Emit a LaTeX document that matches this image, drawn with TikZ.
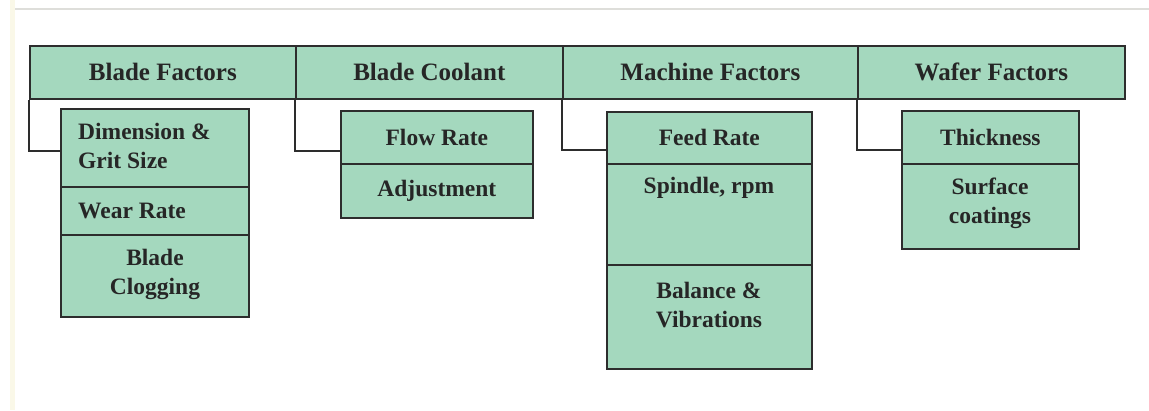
\documentclass[tikz,border=0pt]{standalone}
\usepackage{fontspec}
\setmainfont{Liberation Serif}
\definecolor{cellfill}{RGB}{164,216,190}
\definecolor{edge}{RGB}{45,45,45}
\definecolor{scanline}{RGB}{222,222,218}
\definecolor{cream}{RGB}{250,248,232}
\tikzset{
  cell/.style={draw=edge, fill=cellfill, line width=1.7pt, inner sep=0pt, anchor=north west},
  hdrtxt/.style={font=\bfseries\fontsize{25}{28}\selectfont, text=black!85, inner sep=0pt},
  celltxt/.style={font=\bfseries\fontsize{23.5}{29}\selectfont, text=black!85, inner sep=0pt, align=center},
  link/.style={draw=edge, line width=1.7pt}
}
\begin{document}
\begin{tikzpicture}[x=1pt,y=-1pt]
\useasboundingbox[fill=white] (0,0) rectangle (1149,410);
\fill[cream] (10,0) rectangle (15,410);
\draw[scanline, line width=1.2pt] (15,9) -- (1149,9);

% header row
\node[cell, minimum width=266pt, minimum height=53pt] (hbf) at (29,45) {};
\node[cell, minimum width=267pt, minimum height=53pt] (hbc) at (295,45) {};
\node[cell, minimum width=295pt, minimum height=53pt] (hmf) at (562,45) {};
\node[cell, minimum width=267pt, minimum height=53pt] (hwf) at (857,45) {};
\node[hdrtxt] (tbf) at (hbf.center) {Blade Factors};
\node[hdrtxt] (tbc) at (hbc.center) {Blade Coolant};
\node[hdrtxt] (tmf) at (hmf.center) {Machine Factors};
\node[hdrtxt] (twf) at (hwf.center) {Wafer Factors};

% Blade Factors column
\node[cell, minimum width=188pt, minimum height=78pt] (bf1) at (60,108) {};
\node[cell, minimum width=188pt, minimum height=48pt] (bf2) at (60,186) {};
\node[cell, minimum width=188pt, minimum height=82pt] (bf3) at (60,234) {};
\node[celltxt, align=left, anchor=west] (tbf1) at (78,146) {Dimension \&\\Grit Size};
\node[celltxt, anchor=west] (tbf2) at (78,211) {Wear Rate};
\node[celltxt] (tbf3) at (155,274) {Blade\\Clogging};

% Blade Coolant column
\node[cell, minimum width=192pt, minimum height=53pt] (bc1) at (340,110) {};
\node[cell, minimum width=192pt, minimum height=54pt] (bc2) at (340,163) {};
\node[celltxt] (tbc1) at (bc1.center) {Flow Rate};
\node[celltxt] (tbc2) at (bc2.center) {Adjustment};

% Machine Factors column
\node[cell, minimum width=205pt, minimum height=52pt] (mf1) at (606,111) {};
\node[cell, minimum width=205pt, minimum height=101pt] (mf2) at (606,163) {};
\node[cell, minimum width=205pt, minimum height=104pt] (mf3) at (606,264) {};
\node[celltxt] (tmf1) at (mf1.center) {Feed Rate};
\node[celltxt] (tmf2) at (709,188) {Spindle, rpm};
\node[celltxt] (tmf3) at (709,305) {Balance \&\\Vibrations};

% Wafer Factors column
\node[cell, minimum width=177pt, minimum height=53pt] (wf1) at (901,110) {};
\node[cell, minimum width=177pt, minimum height=85pt] (wf2) at (901,163) {};
\node[celltxt] (twf1) at (wf1.center) {Thickness};
\node[celltxt] (twf2) at (990,203) {Surface\\coatings};

% connectors
\coordinate (jbf) at (60,151);
\coordinate (jbc) at (340,151);
\coordinate (jmf) at (606,150);
\coordinate (jwf) at (901,150);
\draw[link] (hbf.south west) |- (jbf);
\draw[link] (hbc.south west) |- (jbc);
\draw[link] (hmf.south west) |- (jmf);
\draw[link] (hwf.south west) |- (jwf);
\end{tikzpicture}
\end{document}
